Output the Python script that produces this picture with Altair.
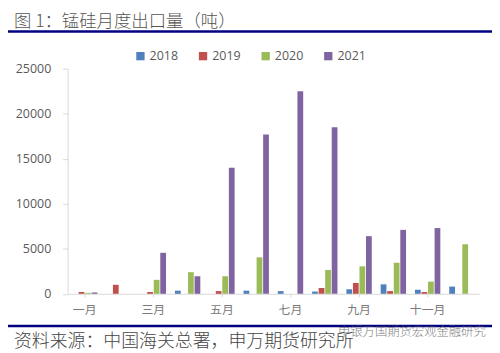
import altair as alt
import pandas as pd

months = ["一月","二月","三月","四月","五月","六月","七月","八月","九月","十月","十一月","十二月"]
years = ["2018","2019","2020","2021"]
v2018 = [0,0,0,350,0,350,300,250,500,1050,450,800]
v2019 = [200,1000,200,0,300,0,0,650,1200,300,200,0]
v2020 = [100,0,1550,2400,1950,4050,0,2650,3050,3450,1350,5500]
v2021 = [150,0,4550,1950,14000,17700,22500,18500,6400,7100,7300,0]
colors = ["#4F81BD","#C0504D","#9BBB59","#8064A2"]
shown_months = ["一月","三月","五月","七月","九月","十一月"]
y_ticks = [0,5000,10000,15000,20000,25000]
title_text = "图 1：锰硅月度出口量（吨）"
source_text = "资料来源：中国海关总署，申万期货研究所"
mark_text = "申银万国期货宏观金融研究"

rows = []
for yr, vals in zip(years, [v2018, v2019, v2020, v2021]):
    for m, v in zip(months, vals):
        rows.append({"month": m, "year": yr, "value": v})
df = pd.DataFrame(rows)

FONT = "Noto Sans CJK SC"
bars = alt.Chart(df).mark_bar().encode(
    x=alt.X("month:N", sort=months,
            scale=alt.Scale(paddingInner=0.26, paddingOuter=0.13),
            axis=alt.Axis(title=None, values=shown_months, labelAngle=0, labelFont=FONT,
                          labelFontSize=12, labelColor="#7a7a7a", labelPadding=8,
                          domainColor="#D9D9D9", tickColor="#D9D9D9", tickSize=3, grid=False)),
    xOffset=alt.XOffset("year:N", sort=years, scale=alt.Scale(paddingInner=0.12, paddingOuter=0)),
    y=alt.Y("value:Q", scale=alt.Scale(domain=[0,25000]),
            axis=alt.Axis(title=None, values=y_ticks, labelFont="Open Sans", labelFontSize=12.5,
                          labelColor="#595959", labelPadding=12, format="d",
                          domainColor="#D9D9D9", tickColor="#D9D9D9", tickSize=5, grid=False)),
    color=alt.Color("year:N", sort=years, scale=alt.Scale(domain=years, range=colors),
                    legend=alt.Legend(title=None, orient="none", direction="horizontal",
                                      legendX=67, legendY=-19, symbolType="square", symbolSize=70,
                                      symbolStrokeWidth=0, labelFont="Open Sans", labelFontSize=12.5,
                                      labelColor="#595959", columnPadding=18, labelOffset=3)),
)

def txt(s, x, y, size, color, opacity=1.0):
    return alt.Chart(pd.DataFrame({"t":[s]})).mark_text(
        align="left", baseline="middle", font=FONT, fontSize=size, color=color, opacity=opacity, fontWeight=300
    ).encode(text="t:N", x=alt.value(x), y=alt.value(y))

def hline(y):
    return alt.Chart(pd.DataFrame({"a":[0]})).mark_rule(color="#000080", strokeWidth=2.5).encode(
        x=alt.value(-60), x2=alt.value(427), y=alt.value(y))

chart = alt.layer(
    bars,
    txt(title_text, -54, -46.5, 17.5, "#555555"),
    hline(-37.5),
    hline(259),
    txt(source_text, -54, 275, 18, "#444444"),
    txt(mark_text, 272, 265, 12.4, "#555555", 0.75),
).properties(
    width=414, height=226.5,
    padding={"left":60,"top":60,"right":13,"bottom":59},
    autosize=alt.AutoSizeParams(type="none"),
    background="white",
).configure_view(stroke=None)

chart.save("out.html", embed_options={"renderer": "svg", "actions": False})
